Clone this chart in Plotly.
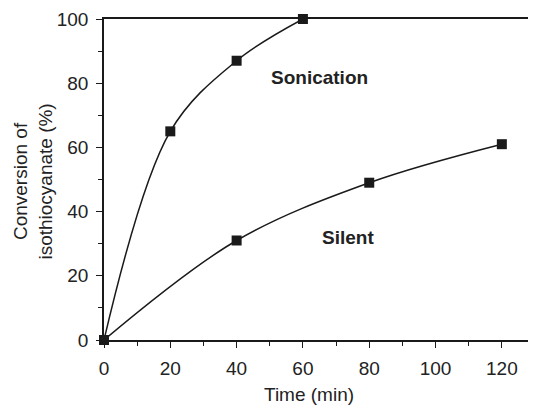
import plotly.graph_objects as go

son_time = [0, 20, 40, 60]
son_conv = [0, 65, 87, 100]
sil_time = [0, 40, 80, 120]
sil_conv = [0, 31, 49, 61]
x_ticks = [0, 20, 40, 60, 80, 100, 120]
y_ticks = [0, 20, 40, 60, 80, 100]

FONT = "Liberation Sans, Arial, sans-serif"
INK = "#1a1a1a"

fig = go.Figure()
for xs, ys in [(son_time, son_conv), (sil_time, sil_conv)]:
    fig.add_trace(go.Scatter(
        x=xs, y=ys, mode="lines+markers",
        line=dict(color=INK, width=1.5, shape="spline", smoothing=1.0),
        marker=dict(symbol="square", size=10, color=INK),
        cliponaxis=False, showlegend=False))

axis_common = dict(
    showgrid=False, zeroline=False, showline=True, linecolor=INK, linewidth=1.5,
    mirror=True, ticks="outside", ticklen=6, tickwidth=1.2, tickcolor=INK,
    tickfont=dict(family=FONT, size=19, color="#222"),
    minor=dict(ticks="outside", ticklen=4, tickwidth=1.2, tickcolor=INK, dtick=10),
)
fig.update_xaxes(range=[0, 130], tickvals=x_ticks, ticklabelstandoff=4, **axis_common)
fig.update_yaxes(range=[0, 100], tickvals=y_ticks, ticklabelstandoff=4, **axis_common)

fig.add_annotation(x=64.9, y=81.9, xref="x", yref="y", text="<b>Sonication</b>",
                   showarrow=False, font=dict(family=FONT, size=19, color="#222"))
fig.add_annotation(x=73.6, y=31.8, xref="x", yref="y", text="<b>Silent</b>",
                   showarrow=False, font=dict(family=FONT, size=19, color="#222"))
fig.add_annotation(x=0.4756, y=-0.171, xref="paper", yref="paper", text="Time (min)",
                   showarrow=False, xanchor="center", yanchor="middle",
                   font=dict(family=FONT, size=19, color="#222"))
fig.add_annotation(x=-0.1636, y=0.495, xref="paper", yref="paper",
                   text="Conversion of<br>isothiocyanate (%)", textangle=-90,
                   showarrow=False, xanchor="center", yanchor="middle",
                   font=dict(family=FONT, size=19, color="#222"))

# page body has an 8px margin; size the figure so it fits the 536x405 window
fig.update_layout(width=528, height=397,
                  margin=dict(l=96, r=1, t=11, b=65, autoexpand=False),
                  plot_bgcolor="white", paper_bgcolor="white")
fig.write_html("out.html")
